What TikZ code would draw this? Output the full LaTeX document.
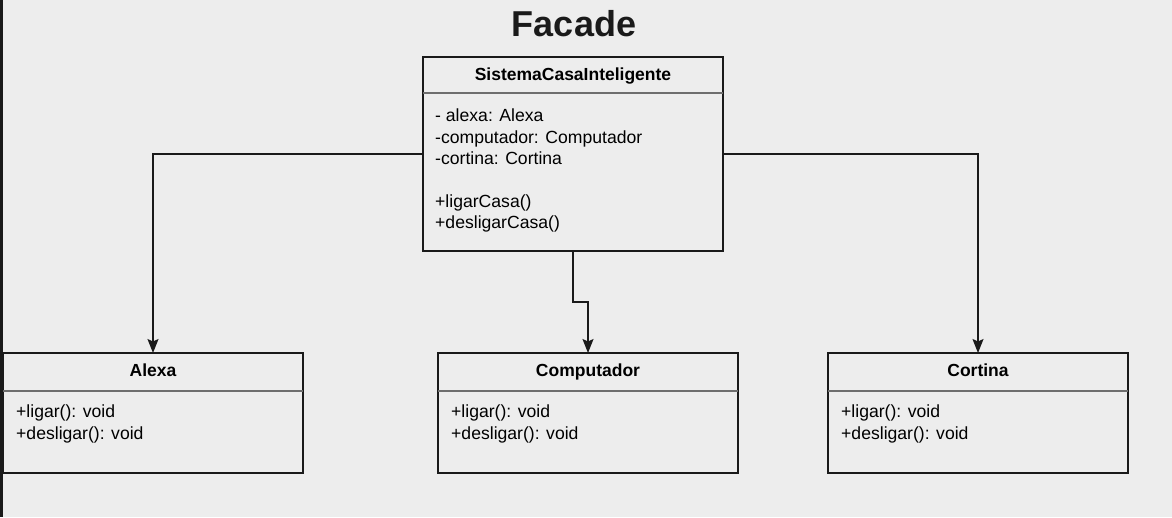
\documentclass[tikz,border=0pt]{standalone}
\usepackage{fontspec}
\setmainfont{Liberation Sans}
\usetikzlibrary{arrows.meta}
\definecolor{bg}{HTML}{EDEDED}
\definecolor{ink}{HTML}{1A1A1A}
\definecolor{sepc}{HTML}{6E6E6E}
\begin{document}
\begin{tikzpicture}[x=1pt,y=-1pt,
  box/.style={draw=ink, line width=1.3pt, fill=bg, inner sep=0pt, outer sep=0pt, minimum width=300pt, anchor=north west},
  sepline/.style={draw=sepc, line width=2pt},
  hdr/.style={font=\fontsize{17.5}{21}\selectfont\bfseries, text=black, inner sep=0pt, anchor=base},
  txt/.style={font=\fontsize{17.6}{21}\selectfont, text=black, inner sep=0pt, anchor=base west},
  conn/.style={draw=ink, line width=1.3pt, -{Stealth[length=14pt,width=11pt,inset=2.5pt]}}]
\fill[bg] (0,0) rectangle (1172,517);
\useasboundingbox (0,0) rectangle (1172,517);
\fill[ink] (0,0) rectangle (2.5,517);

\node[font=\fontsize{36}{40}\selectfont\bfseries, text=ink, inner sep=0pt, anchor=base] (title) at (574,36) {Facade};

% main class
\node[box, minimum height=194pt] (main) at (423,57) {};
\draw[sepline] ([yshift=-36pt]main.north west) -- ([yshift=-36pt]main.north east);
\node[hdr] (mainname) at (573,80) {SistemaCasaInteligente};
\node[txt] (m1) at (435,121) {- alexa: Alexa};
\node[txt] (m2) at (435,143) {-computador: Computador};
\node[txt] (m3) at (435,164) {-cortina: Cortina};
\node[txt] (m4) at (435,207) {+ligarCasa()};
\node[txt] (m5) at (435,228) {+desligarCasa()};

% Alexa
\node[box, minimum height=120pt] (alexa) at (3,353) {};
\draw[sepline] ([yshift=-38pt]alexa.north west) -- ([yshift=-38pt]alexa.north east);
\node[hdr] (alexaname) at (153,376) {Alexa};
\node[txt] (a1) at (16,417) {+ligar(): void};
\node[txt] (a2) at (16,439) {+desligar(): void};

% Computador
\node[box, minimum height=120pt] (comp) at (438,353) {};
\draw[sepline] ([yshift=-38pt]comp.north west) -- ([yshift=-38pt]comp.north east);
\node[hdr] (compname) at (588,376) {Computador};
\node[txt] (c1) at (451,417) {+ligar(): void};
\node[txt] (c2) at (451,439) {+desligar(): void};

% Cortina
\node[box, minimum height=120pt] (cort) at (828,353) {};
\draw[sepline] ([yshift=-38pt]cort.north west) -- ([yshift=-38pt]cort.north east);
\node[hdr] (cortname) at (978,376) {Cortina};
\node[txt] (k1) at (841,417) {+ligar(): void};
\node[txt] (k2) at (841,439) {+desligar(): void};

% connectors
\draw[conn] (main.west) -| (alexa.north);
\draw[conn] (main.east) -| (cort.north);
\draw[conn] (main.south) -- ++(0,51) -| (comp.north);
\end{tikzpicture}
\end{document}
